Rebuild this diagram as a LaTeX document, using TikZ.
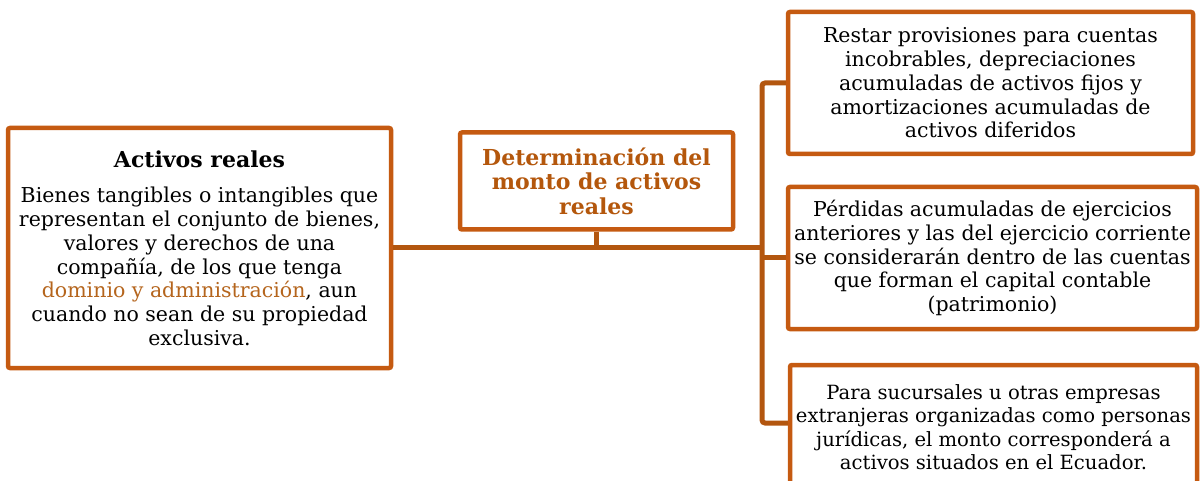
\documentclass[tikz,border=0pt]{standalone}
\usepackage{fontspec}
\setmainfont{DejaVu Serif}
\usetikzlibrary{positioning}
\definecolor{boxorange}{HTML}{C55A11}
\definecolor{linkbrown}{HTML}{B3560F}
\definecolor{titleorange}{HTML}{B4570C}
\definecolor{keyword}{HTML}{B5651D}
\tikzset{
    box/.style={draw=boxorange, line width=4.5pt, fill=white, rounded corners=2pt,
      align=center, inner sep=0pt, font=\fontsize{20.5}{23.7}\selectfont},
    link/.style={draw=linkbrown, line width=5pt},
}

\begin{document}
\begin{tikzpicture}[x=1pt, y=-1pt]
    \clip (0,0) rectangle (1203,481);

    \node[box, minimum width=383pt, minimum height=240pt] (activos) at (199.5,248)
      {{\fontsize{22}{24}\selectfont\bfseries Activos reales}\\[12pt]
       Bienes tangibles o intangibles que\\
       representan el conjunto de bienes,\\
       valores y derechos de una\\
       compañía, de los que tenga\\
       \textcolor{keyword}{dominio y administración}, aun\\
       cuando no sean de su propiedad\\
       exclusiva.};

    \node[box, minimum width=273pt, minimum height=97pt, text=titleorange,
      font=\fontsize{22}{24.5}\selectfont\bfseries] (monto) at (596.5,181)
      {Determinación del\\ monto de activos\\ reales};

    \node[box, minimum width=405pt, minimum height=142pt] (restar) at (990.5,83)
      {Restar provisiones para cuentas\\
       incobrables, depreciaciones\\
       acumuladas de activos fijos y\\
       amortizaciones acumuladas de\\
       activos diferidos};

    \node[box, minimum width=409pt, minimum height=142pt] (perdidas) at (992.5,258)
      {Pérdidas acumuladas de ejercicios\\
       anteriores y las del ejercicio corriente\\
       se considerarán dentro de las cuentas\\
       que forman el capital contable\\
       (patrimonio)};

    \node[box, minimum width=407pt, minimum height=124pt,
      font=\fontsize{19.6}{23.5}\selectfont] (sucursales) at (993.5,427)
      {Para sucursales u otras empresas\\
       extranjeras organizadas como personas\\
       jurídicas, el monto corresponderá a\\
       activos situados en el Ecuador.};

    % conectores
    \coordinate (hub) at (762,248);
    \coordinate (trunkend) at (762,423);

    \draw[link] (monto.south) -- (monto.south |- hub);
    \draw[link] (activos.east) -- (hub);
    \draw[link, rounded corners=3pt] (restar.west) -| (trunkend) -- (sucursales.west |- trunkend);
    \draw[link] (perdidas.west) -- (perdidas.west -| hub);
\end{tikzpicture}
\end{document}
